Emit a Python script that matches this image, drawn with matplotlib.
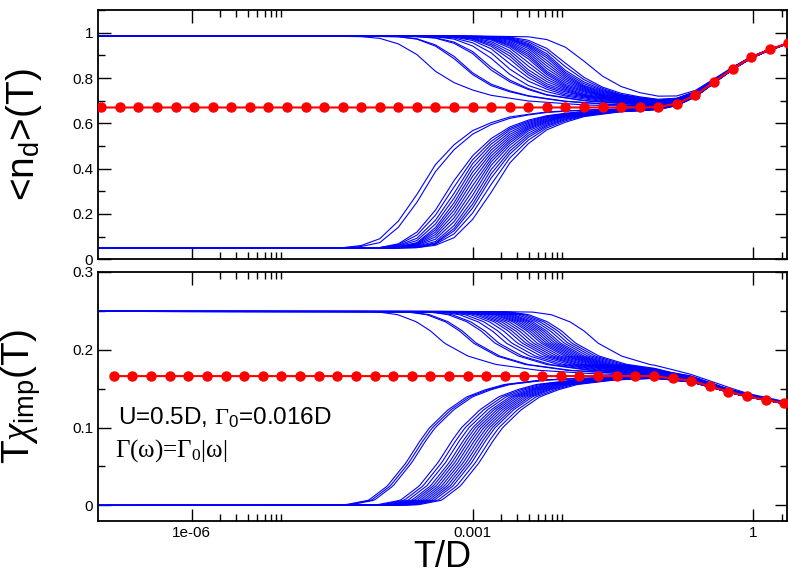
import numpy as np
import matplotlib.pyplot as plt
from matplotlib.ticker import FixedLocator, FixedFormatter, MultipleLocator, FuncFormatter

plt.rcParams['font.family'] = ['Liberation Sans', 'DejaVu Sans']
plt.rcParams['mathtext.fontset'] = 'custom'
plt.rcParams['mathtext.rm'] = 'Liberation Serif'
plt.rcParams['mathtext.it'] = 'Liberation Serif:italic'
plt.rcParams['mathtext.sf'] = 'Liberation Sans'

# --- red curves (log10 T/D and values) ---
logT_top = [-6.965, -6.767, -6.568, -6.370, -6.172, -5.973, -5.775, -5.577,
            -5.379, -5.180, -4.982, -4.784, -4.585, -4.387, -4.189, -3.990,
            -3.792, -3.594, -3.396, -3.197, -2.999, -2.801, -2.602, -2.404,
            -2.206, -2.007, -1.809, -1.611, -1.413, -1.214, -1.016, -0.818,
            -0.619, -0.421, -0.223, -0.024, 0.174, 0.372]
nd_red = [0.670] * 30 + [0.672, 0.687, 0.724, 0.783, 0.841, 0.891, 0.926, 0.954]

logT_bot = [-6.831, -6.632, -6.433, -6.234, -6.035, -5.837, -5.638, -5.439,
            -5.240, -5.041, -4.842, -4.643, -4.444, -4.245, -4.046, -3.848,
            -3.649, -3.450, -3.251, -3.052, -2.853, -2.654, -2.455, -2.256,
            -2.057, -1.859, -1.660, -1.461, -1.262, -1.063, -0.864, -0.665,
            -0.466, -0.267, -0.068, 0.131, 0.330]
chi_red = [0.166] * 30 + [0.163, 0.160, 0.153, 0.146, 0.140, 0.1355, 0.131]

# --- blue curves: start value, crossover (log10 T) of each run, crossover shape ---
nd_up_start, nd_lo_start = 0.985, 0.049
chi_up_start, chi_lo_start = 0.249, 0.0

nd_up_mid = [-3.40, -3.06, -3.03, -2.79, -2.76, -2.66, -2.58, -2.52, -2.47,
             -2.43, -2.39, -2.35, -2.31, -2.27, -2.24, -2.21, -2.18, -2.15,
             -2.12, -2.09, -2.06, -2.03, -2.00, -1.96, -1.92, -1.70]
nd_lo_mid = [-3.49, -3.44, -3.18, -3.14, -3.10, -3.07, -3.04, -3.01, -2.98,
             -2.95, -2.92, -2.89, -2.86, -2.83, -2.80, -2.76, -2.71]
chi_up_mid = [-3.30, -2.99, -2.96, -2.76, -2.72, -2.64, -2.58, -2.52, -2.47,
              -2.43, -2.39, -2.35, -2.31, -2.27, -2.24, -2.21, -2.18, -2.15,
              -2.12, -2.09, -2.06, -2.02, -1.98, -1.94, -1.90, -1.66]
chi_lo_mid = [-3.56, -3.53, -3.50, -3.22, -3.18, -3.14, -3.10, -3.07, -3.04,
              -3.01, -2.98, -2.95, -2.92, -2.89, -2.86, -2.82, -2.78]

# fraction of the way to the red curve vs. log10(T) - crossover
up_u = [-1.2, -0.7, -0.5, -0.3, -0.15, 0.0, 0.25, 0.55, 1.0, 1.6, 2.3, 3.0]
up_g = [0.0, 0.01, 0.05, 0.16, 0.30, 0.49, 0.69, 0.82, 0.91, 0.965, 0.99, 1.0]
lo_u = [-1.2, -0.8, -0.55, -0.35, -0.15, 0.0, 0.1, 0.3, 0.5, 0.7, 0.9, 1.3, 1.8, 2.5, 4.0]
lo_g = [0.0, 0.005, 0.04, 0.15, 0.33, 0.5, 0.6, 0.74, 0.84, 0.895, 0.935, 0.97, 0.985, 0.995, 1.0]


def run_curve(lt, red, start, mid, pu, pg):
    g = np.interp(lt - mid, pu, pg)
    return red + (start - red) * (1 - g)


fig = plt.figure(figsize=(7.88, 5.76), dpi=100)
ax1 = fig.add_axes([0.1244, 0.5498, 0.874, 0.4328])
ax2 = fig.add_axes([0.1244, 0.0955, 0.874, 0.4328])

# top panel: runs sampled on the same temperature grid as the red curve
lt1 = np.array([-7.163] + logT_top)
red1 = np.interp(lt1, logT_top, nd_red)
for m in nd_up_mid:
    ax1.plot(10 ** lt1, run_curve(lt1, red1, nd_up_start, m, up_u, up_g), color='#0000ff', lw=0.8)
for m in nd_lo_mid:
    ax1.plot(10 ** lt1, run_curve(lt1, red1, nd_lo_start, m, lo_u, lo_g), color='#0000ff', lw=0.8)
ax1.plot(10 ** np.array(logT_top), nd_red, color='#ff0000', lw=1.5, marker='o', ms=6.5, zorder=5)

# bottom panel: runs drawn smooth
lt2 = np.linspace(-7.1, 0.4, 300)
red2 = np.interp(lt2, logT_bot, chi_red)
for m in chi_up_mid:
    ax2.plot(10 ** lt2, run_curve(lt2, red2, chi_up_start, m, up_u, up_g), color='#0000ff', lw=0.8)
for m in chi_lo_mid:
    ax2.plot(10 ** lt2, run_curve(lt2, red2, chi_lo_start, m, lo_u, lo_g), color='#0000ff', lw=0.8)
ax2.plot(10 ** np.array(logT_bot), chi_red, color='#ff0000', lw=1.5, marker='o', ms=6.5, zorder=5)

minor_x = [k * 1e-6 for k in range(2, 10)] + [k * 1e-3 for k in range(2, 10)] + [2.0]
for ax in (ax1, ax2):
    ax.set_xscale('log')
    ax.set_xlim(1e-7, 2.27)
    ax.xaxis.set_major_locator(FixedLocator([1e-6, 1e-3, 1]))
    ax.xaxis.set_major_formatter(FixedFormatter(['1e-06', '0.001', '1']))
    ax.xaxis.set_minor_locator(FixedLocator(minor_x))
    ax.xaxis.set_minor_formatter(FixedFormatter([]))
    ax.tick_params(which='both', direction='in', top=True, right=True, width=1.0,
                   labelsize=11)
    ax.tick_params(which='major', length=9)
    ax.tick_params(which='minor', length=5)
    ax.yaxis.set_major_formatter(FuncFormatter(lambda v, p: '%g' % round(v, 3)))
    for s in ax.spines.values():
        s.set_linewidth(1.3)

ax1.set_ylim(0, 1.1)
ax1.yaxis.set_major_locator(MultipleLocator(0.2))
ax1.yaxis.set_minor_locator(MultipleLocator(0.1))
ax1.tick_params(labelbottom=False)
ax1.set_ylabel(r'<n$_{\mathsf{d}}$>(T)', fontsize=28)
ax1.yaxis.set_label_coords(-0.078, 0.5)

ax2.set_ylim(-0.02, 0.3)
ax2.yaxis.set_major_locator(MultipleLocator(0.1))
ax2.yaxis.set_minor_locator(MultipleLocator(0.05))
ax2.set_ylabel(r'T$\chi_{\mathsf{imp}}$(T)', fontsize=28)
ax2.yaxis.set_label_coords(-0.078, 0.5)
ax2.set_xlabel('T/D', fontsize=26, labelpad=0)

ax2.text(0.029, 0.385, r'U=0.5D, $\Gamma_{\mathsf{0}}$=0.016D', transform=ax2.transAxes,
         fontsize=17.5)
ax2.text(0.025, 0.258, r'Γ(ω)=Γ$_0$|ω|', transform=ax2.transAxes,
         fontsize=18, family=['Liberation Serif', 'DejaVu Serif'])

fig.savefig('out.png', dpi=100)
